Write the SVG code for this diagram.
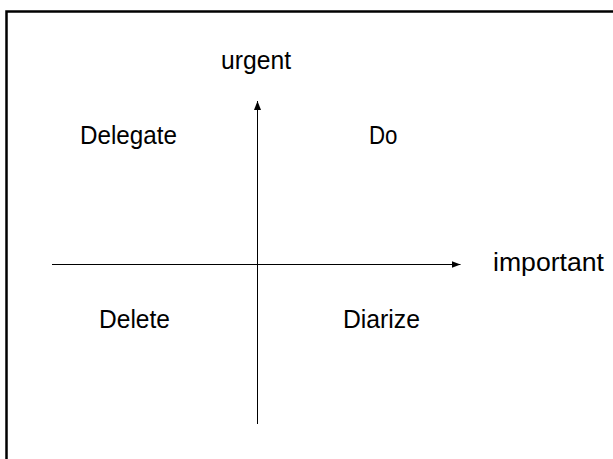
<svg xmlns="http://www.w3.org/2000/svg" width="613" height="459" viewBox="0 0 613 459">
<style>
text{font-family:"Liberation Sans",Arial,sans-serif;font-size:25.5px;fill:#000}
.ax{stroke:#000;stroke-width:1;fill:none}
</style>
<defs>
<marker id="ah" viewBox="0 0 9 8" refX="9" refY="4" markerWidth="9" markerHeight="8" markerUnits="userSpaceOnUse" orient="auto">
<path d="M0,0.5 L9,4 L0,7.5 Z" fill="#000"/>
</marker>
</defs>
<rect x="0" y="0" width="613" height="459" fill="#fff"/>
<path d="M6.5,470 V11.5 H620" stroke="#000" stroke-width="2.5" fill="none"/>
<g id="connectors">
<line class="ax" x1="257.5" y1="424" x2="257.5" y2="101" marker-end="url(#ah)"/>
<line class="ax" x1="52" y1="264.5" x2="460.5" y2="264.5" marker-end="url(#ah)"/>
</g>
<g id="urgent"><text x="221" y="69" textLength="70" lengthAdjust="spacingAndGlyphs">urgent</text></g>
<g id="important"><text x="493" y="271" textLength="111" lengthAdjust="spacingAndGlyphs">important</text></g>
<g id="delegate"><text x="80" y="143.5" textLength="97" lengthAdjust="spacingAndGlyphs">Delegate</text></g>
<g id="do"><text x="369" y="143.5" textLength="28.5" lengthAdjust="spacingAndGlyphs">Do</text></g>
<g id="delete"><text x="99" y="328" textLength="71" lengthAdjust="spacingAndGlyphs">Delete</text></g>
<g id="diarize"><text x="343" y="328" textLength="77" lengthAdjust="spacingAndGlyphs">Diarize</text></g>
</svg>
